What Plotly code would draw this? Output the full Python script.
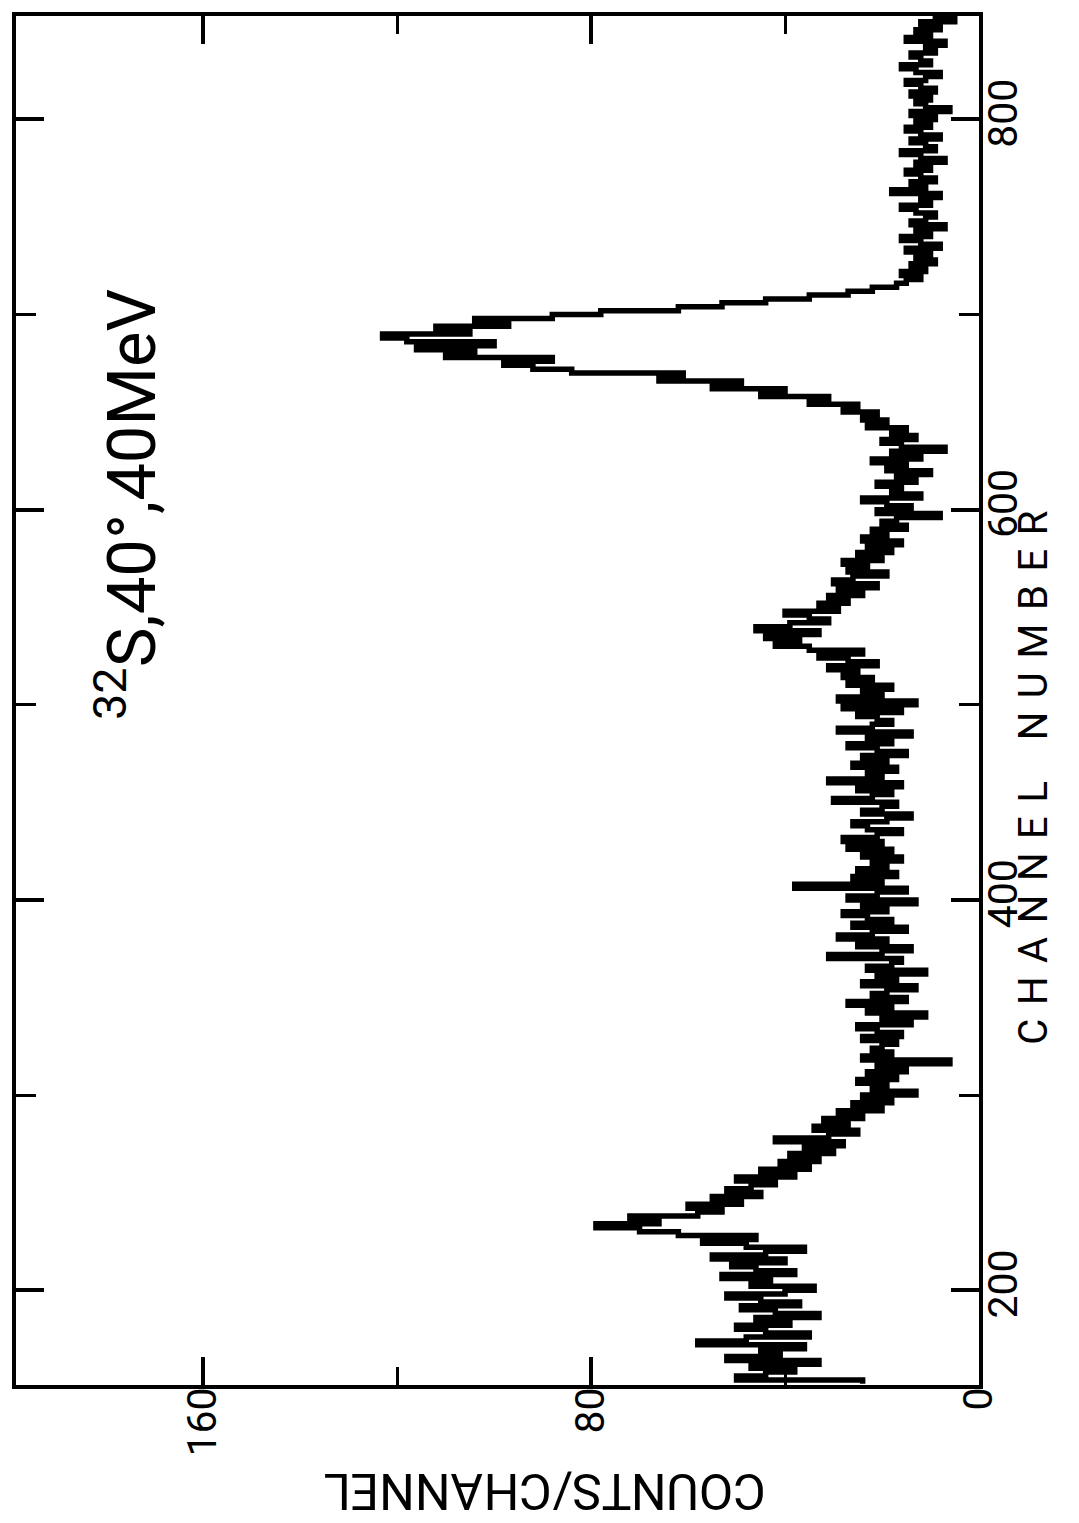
import plotly.graph_objects as go

# Spectrum: counts per channel, stored in 2-channel bins starting at channel 152
first_channel = 152
bin_width = 2
counts = [
    24, 50, 44, 38, 47, 33, 52, 41, 45, 36,
    58, 48, 35, 44, 50, 39, 46, 33, 42, 49,
    37, 45, 52, 40, 34, 47, 43, 53, 38, 46,
    51, 40, 55, 44, 36, 48, 57, 46, 62, 70,
    79, 66, 72, 58, 53, 60, 49, 55, 45, 52,
    47, 42, 50, 38, 45, 35, 41, 33, 39, 30,
    36, 28, 42, 31, 25, 34, 27, 32, 24, 29,
    20, 26, 18, 24, 13, 22, 19, 25, 17, 23,
    15, 21, 6, 24, 18, 22, 20, 17, 24, 16,
    21, 25, 14, 20, 11, 23, 18, 27, 15, 22,
    19, 13, 24, 17, 21, 11, 23, 18, 16, 31,
    20, 14, 25, 19, 29, 22, 15, 26, 18, 23,
    28, 19, 24, 13, 27, 21, 15, 38, 20, 26,
    17, 25, 19, 22, 16, 24, 18, 27, 20, 28,
    21, 16, 23, 26, 19, 14, 24, 20, 17, 30,
    22, 18, 25, 16, 31, 20, 23, 17, 26, 19,
    24, 15, 21, 27, 18, 23, 14, 29, 22, 18,
    21, 25, 16, 28, 13, 29, 20, 24, 18, 27,
    22, 28, 25, 31, 21, 27, 33, 24, 35, 42,
    37, 44, 33, 46, 39, 31, 35, 40, 29, 33,
    27, 31, 24, 29, 21, 30, 26, 19, 27, 23,
    28, 20, 25, 18, 23, 16, 24, 19, 22, 15,
    20, 17, 8, 21, 14, 19, 24, 12, 18, 16,
    21, 13, 17, 10, 19, 15, 22, 12, 18, 7,
    16, 20, 13, 18, 15, 23, 19, 24, 21, 28,
    25, 35, 31, 45, 40, 55, 49, 66, 61, 84,
    92, 98, 88, 110, 104, 116, 100, 118, 123, 105,
    112, 97, 104, 88, 78, 62, 53, 44, 35, 27,
    22, 17, 15, 12, 16, 11, 14, 9, 13, 10,
    15, 8, 12, 16, 10, 13, 7, 14, 11, 9,
    13, 16, 10, 12, 8, 18, 11, 14, 9, 12,
    15, 10, 13, 7, 12, 16, 9, 11, 14, 8,
    12, 15, 10, 13, 9, 14, 6, 11, 13, 10,
    14, 9, 12, 15, 11, 8, 13, 16, 10, 12,
    14, 9, 11, 7, 15, 10, 13, 8, 12, 5, 9,
]

count_ticks = [0, 80, 160]
channel_ticks = [200, 400, 600, 800]
title_text = "<sup>32</sup>S,40°,40MeV"
count_title = "COUNTS/CHANNEL"
# plotter-style wide lettering: three-per-em spaces between letters, em space between words
channel_title = "\u2003".join("\u2004".join(word) for word in ["CHANNEL", "NUMBER"])

# bin edges along the channel axis (lower edge of every bin plus the closing edge)
channels = [first_channel + bin_width * i for i in range(len(counts))]
edges = channels + [channels[-1] + bin_width]
step_counts = counts + [counts[-1]]

W, H = 1079, 1523
ML, MR, MT, MB = 14, 100, 14, 138
PW, PH = W - ML - MR, H - MT - MB


def px_to_paper(px, py):
    return (px - ML) / PW, (H - MB - py) / PH


fig = go.Figure()
fig.add_trace(go.Scatter(
    x=step_counts, y=edges, mode="lines", line_shape="vh",
    line=dict(color="black", width=5.5), hoverinfo="skip", showlegend=False,
))

tick_font = dict(family="Roboto", size=41, color="black")
axis_common = dict(
    showline=True, linecolor="black", linewidth=4, mirror="allticks",
    ticks="inside", ticklen=28, tickwidth=4, tickcolor="black",
    showgrid=False, zeroline=False, tickangle=-90, tickfont=tick_font,
)

fig.update_xaxes(
    range=[198.6, 0], tickmode="array", tickvals=count_ticks,
    ticktext=[str(v) for v in count_ticks],
    minor=dict(ticks="inside", ticklen=18, tickwidth=3, tickcolor="black", dtick=40, tick0=0),
    ticklabelstandoff=-18,
    **axis_common,
)
fig.update_yaxes(
    side="right", range=[151.4, 853], tickmode="array", tickvals=channel_ticks,
    ticktext=[str(v) for v in channel_ticks],
    minor=dict(ticks="inside", ticklen=20, tickwidth=3, tickcolor="black", dtick=100, tick0=0),
    ticklabelstandoff=-15,
    **axis_common,
)

tx, ty = px_to_paper(125, 503)
cx, cy = px_to_paper(1034, 777)
kx, ky = px_to_paper(544, 1491)
fig.add_annotation(
    x=tx, y=ty, xref="paper", yref="paper", text=title_text, textangle=-90,
    showarrow=False, xanchor="center", yanchor="middle",
    font=dict(family="Roboto", size=67, color="black"),
)
fig.add_annotation(
    x=cx, y=cy, xref="paper", yref="paper", text=channel_title,
    textangle=-90, showarrow=False, xanchor="center", yanchor="middle",
    font=dict(family="Roboto", size=40, color="black"),
)
fig.add_annotation(
    x=kx, y=ky, xref="paper", yref="paper", text=count_title,
    textangle=180, showarrow=False, xanchor="center", yanchor="middle",
    font=dict(family="Roboto", size=50, color="black"),
)

fig.update_layout(
    width=W, height=H, margin=dict(l=ML, r=MR, t=MT, b=MB),
    plot_bgcolor="white", paper_bgcolor="white", showlegend=False,
)

fig.write_html("out.html")
